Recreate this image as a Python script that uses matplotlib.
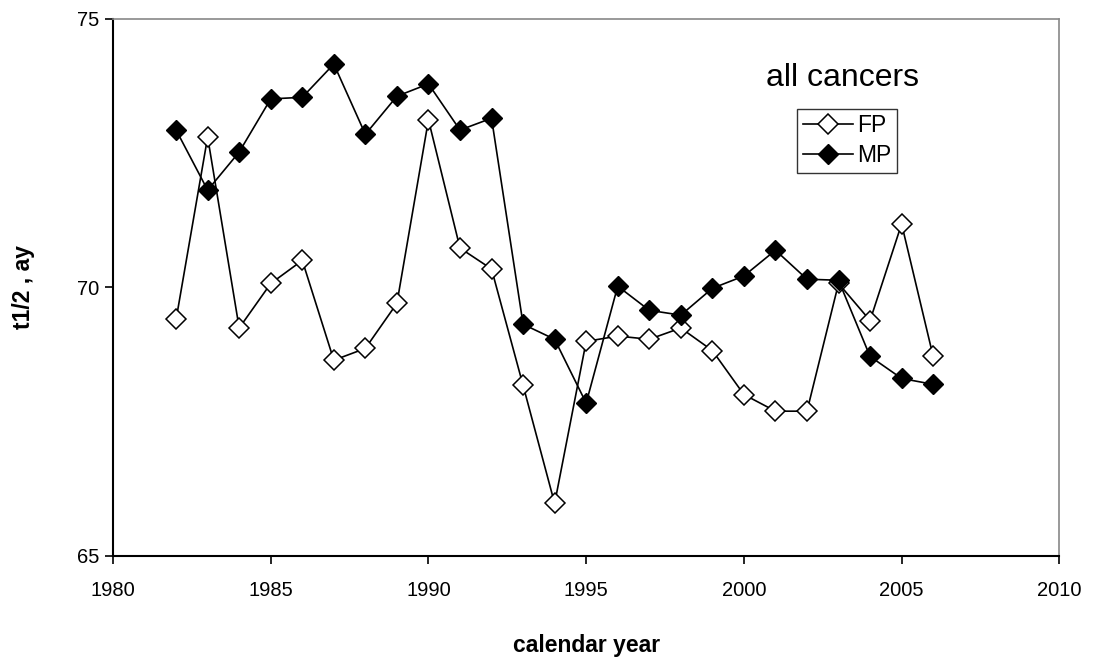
import matplotlib
matplotlib.use("Agg")
import matplotlib.pyplot as plt

plt.rcParams['font.family'] = ['Liberation Sans', 'DejaVu Sans']

years = list(range(1982, 2007))
fp = [69.40, 72.80, 69.24, 70.07, 70.50, 68.64, 68.86, 69.70, 73.12, 70.73,
      70.34, 68.17, 65.97, 68.99, 69.09, 69.03, 69.24, 68.82, 68.00, 67.69,
      67.69, 70.07, 69.38, 71.18, 68.71]
mp = [72.93, 71.81, 72.52, 73.51, 73.54, 74.16, 72.85, 73.56, 73.79, 72.93,
      73.15, 69.31, 69.03, 67.84, 70.02, 69.57, 69.48, 69.98, 70.21, 70.69,
      70.15, 70.13, 68.71, 68.30, 68.19]

fig = plt.figure(figsize=(10.93, 6.61), dpi=100)
ax = fig.add_axes([0.1034, 0.1596, 0.8658, 0.8117])

ax.plot(years, fp, color='black', lw=1.2, marker='D', markersize=10,
        markerfacecolor='white', markeredgecolor='black', markeredgewidth=1.1,
        label='FP')
ax.plot(years, mp, color='black', lw=1.2, marker='D', markersize=10,
        markerfacecolor='black', markeredgecolor='black', label='MP')

ax.set_xlim(1980, 2010)
ax.set_ylim(65, 75)
ax.set_xticks(range(1980, 2011, 5))
ax.set_yticks([65, 70, 75])
ax.tick_params(direction='out', length=6, width=1.2, labelsize=14.5, pad=12)
ax.tick_params(axis='y', pad=4)

for side in ('left', 'bottom'):
    ax.spines[side].set_linewidth(1.5)
for side in ('top', 'right'):
    ax.spines[side].set_color('#888888')
    ax.spines[side].set_linewidth(1.2)

ax.set_xlabel('calendar year', fontsize=16.5, fontweight='bold', labelpad=25)
ax.set_ylabel('t1/2 , ay', fontsize=16.5, fontweight='bold', labelpad=30)

ax.text(0.771, 0.89, 'all cancers', transform=ax.transAxes, fontsize=23,
        ha='center', va='center')

leg = ax.legend(loc='upper left', bbox_to_anchor=(0.723, 0.833), frameon=True,
                fancybox=False, edgecolor='black', fontsize=16.5,
                handlelength=2.2, handletextpad=0.15, borderpad=0.25,
                labelspacing=0.3, borderaxespad=0)
leg.get_frame().set_linewidth(1.0)

fig.savefig('out.png', dpi=100)
